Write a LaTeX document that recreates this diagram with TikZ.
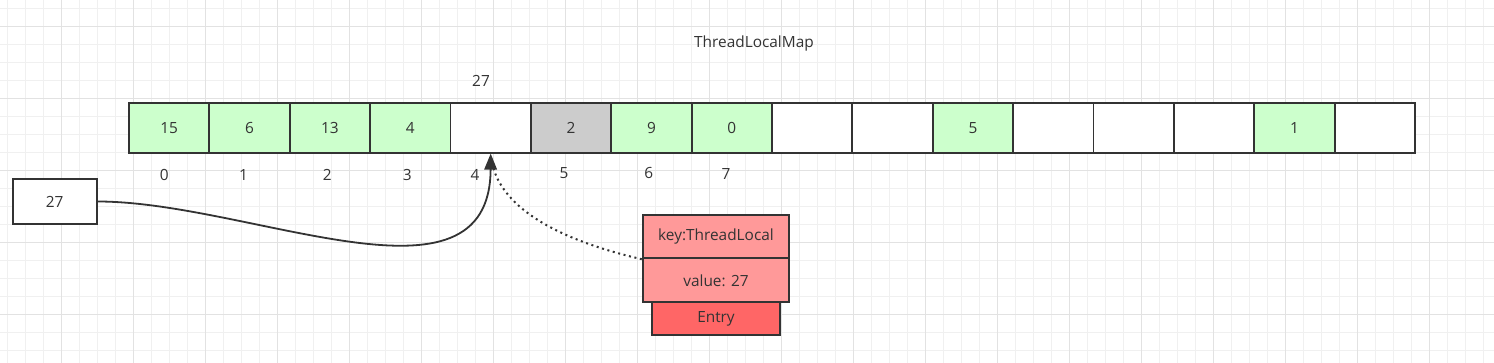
\documentclass[tikz,border=0pt]{standalone}
\usepackage{fontspec}
\setmainfont{Open Sans}
\usetikzlibrary{arrows.meta}
\definecolor{txt}{HTML}{333333}
\definecolor{strk}{HTML}{333333}
\definecolor{gfill}{HTML}{CCFFCC}
\definecolor{grayfill}{HTML}{CCCCCC}
\definecolor{rlight}{HTML}{FF9999}
\definecolor{rdark}{HTML}{FF6666}
\definecolor{gminor}{HTML}{F0F0F0}
\definecolor{gmajor}{HTML}{E2E2E2}
\begin{document}
\begin{tikzpicture}[x=1pt,y=-1pt,
  every node/.style={font=\fontsize{15.4}{18}\selectfont, text=txt},
  cellbox/.style={draw=strk, line width=1.8pt, minimum width=80.375pt, minimum height=49.4pt, inner sep=0pt, fill=white},
  greencell/.style={cellbox, fill=gfill},
  graycell/.style={cellbox, fill=grayfill},
  idx/.style={inner sep=0pt},
  plainbox/.style={draw=strk, line width=1.8pt, fill=white, inner sep=0pt},
  entrybox/.style={draw=strk, line width=1.8pt, fill=rlight, inner sep=0pt, minimum width=146.6pt},
  conn/.style={draw=strk, line width=1.8pt}
]
\useasboundingbox (0,0) rectangle (1494,363);
\fill[white] (0,0) rectangle (1494,363);
% grid
\foreach \i in {0,...,82} {\draw[gminor, line width=1pt] ({7.7+18*\i},0) -- ({7.7+18*\i},363);}
\foreach \i in {0,...,19} {\draw[gminor, line width=1pt] (0,{8.3+18*\i}) -- (1494,{8.3+18*\i});}
\foreach \i in {0,...,20} {\draw[gmajor, line width=1pt] ({61.7+72*\i},0) -- ({61.7+72*\i},363);}
\foreach \i in {0,...,4} {\draw[gmajor, line width=1pt] (0,{26.3+72*\i}) -- (1494,{26.3+72*\i});}

\node[idx] (title) at (754,44) {ThreadLocalMap};
\node[idx] (top27) at (481,81) {27};

% cells
\foreach \i/\s/\t in {0/greencell/15, 1/greencell/6, 2/greencell/13, 3/greencell/4,
  4/cellbox/{}, 5/graycell/2, 6/greencell/9, 7/greencell/0, 8/cellbox/{}, 9/cellbox/{},
  10/greencell/5, 11/cellbox/{}, 12/cellbox/{}, 13/cellbox/{}, 14/greencell/1, 15/cellbox/{}} {
  \node[\s] (c\i) at ({129+80.375*(\i+0.5)},128) {\t};
}

% index labels
\node[idx] (i0) at (164.3,175) {0};
\node[idx] (i1) at (243.5,175) {1};
\node[idx] (i2) at (327.3,175) {2};
\node[idx] (i3) at (407.3,175) {3};
\node[idx] (i4) at (475,174.5) {4};
\node[idx] (i5) at (564,173) {5};
\node[idx] (i6) at (648.7,173) {6};
\node[idx] (i7) at (726,174.5) {7};

% left box
\node[plainbox, minimum width=84pt, minimum height=45pt] (src) at (54.7,201.5) {27};

% entry
\node[entrybox, minimum height=43.3pt] (key) at (716,236.65) {key:ThreadLocal};
\node[entrybox, minimum height=44pt] (val) at (716,280.3) {value: 27};
\node[entrybox, fill=rdark, minimum width=128pt, minimum height=32.7pt] (entry) at (716,318.65) {Entry};

% connectors
\draw[conn, line width=2pt, dash pattern=on 2pt off 3.6pt] (key.south west) .. controls (580,245) and (495,215) .. (c4.south);
\draw[conn, -{Triangle[length=16pt,width=12.5pt]}] (src.east) .. controls (250,201.5) and (490,320) .. (c4.south);
\end{tikzpicture}
\end{document}
